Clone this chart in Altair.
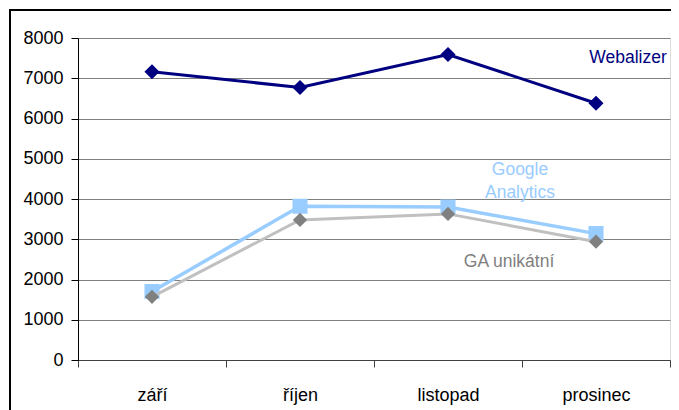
import altair as alt
import pandas as pd

months = ["září", "říjen", "listopad", "prosinec"]
webalizer = [7160, 6770, 7590, 6380]
google_analytics = [1700, 3820, 3800, 3140]
ga_unikatni = [1570, 3480, 3630, 2940]

series_names = ["Google Analytics", "GA unikátní", "Webalizer"]
series_values = [google_analytics, ga_unikatni, webalizer]
line_colors = ["#99CCFF", "#C0C0C0", "#000080"]
marker_colors = ["#99CCFF", "#808080", "#000080"]
marker_shapes = ["square", "diamond", "diamond"]
marker_sizes = [170, 130, 150]
line_widths = [3.5, 3, 3]

# annotation labels: text, anchor month, anchor value
label_texts = [["Google", "Analytics"], ["GA unikátní"], ["Webalizer"]]
label_months = ["listopad", "listopad", "prosinec"]
label_values = [4720, 2440, 7500]
label_dx = [72, 61, 32]
label_colors = ["#99CCFF", "#808080", "#000080"]

FONT = "Liberation Sans"

x_scale = alt.Scale(domain=months, paddingInner=0, paddingOuter=0)
y_scale = alt.Scale(domain=[0, 8000], nice=False)

x_enc = alt.X(
    "month:N",
    scale=x_scale,
    sort=months,
    axis=alt.Axis(
        title=None,
        labelAngle=0,
        labelFont=FONT,
        labelFontSize=18,
        labelColor="#000000",
        labelPadding=19,
        tickBand="extent",
        tickSize=7,
        tickColor="#404040",
        domainColor="#404040",
        grid=False,
    ),
)
y_enc = alt.Y(
    "value:Q",
    scale=y_scale,
    axis=alt.Axis(
        title=None,
        values=list(range(0, 8001, 1000)),
        format="d",
        labelFont=FONT,
        labelFontSize=18,
        labelColor="#000000",
        labelPadding=8,
        tickSize=7,
        tickColor="#000000",
        domainColor="#000000",
        grid=True,
        gridColor="#808080",
        gridOpacity=1,
    ),
)

layers = []

# outer frame
frame = alt.Chart(pd.DataFrame({"a": [0]})).mark_rect(
    fill=None, stroke="#000000", strokeWidth=2
).encode(
    x=alt.value(-68), x2=alt.value(800), y=alt.value(-28), y2=alt.value(600)
)
layers.append(frame)

for i, name in enumerate(series_names):
    df = pd.DataFrame({"month": months, "value": series_values[i], "series": name})
    base = alt.Chart(df)
    line = base.mark_line(color=line_colors[i], strokeWidth=line_widths[i]).encode(
        x=x_enc, y=y_enc
    )
    pts = base.mark_point(
        shape=marker_shapes[i],
        filled=True,
        fill=marker_colors[i],
        stroke=marker_colors[i],
        size=marker_sizes[i],
        opacity=1,
    ).encode(x=x_enc, y=y_enc)
    layers.append(line)
    layers.append(pts)

for i in range(len(label_texts)):
    ldf = pd.DataFrame(
        {"month": [label_months[i]], "value": [label_values[i]], "text": [label_texts[i]]}
    )
    t = alt.Chart(ldf).mark_text(
        font=FONT,
        fontSize=17.5,
        color=label_colors[i],
        dx=label_dx[i],
        align="center",
        baseline="middle",
        lineHeight=23,
    ).encode(x=alt.X("month:N", scale=x_scale, sort=months), y=alt.Y("value:Q", scale=y_scale), text="text")
    layers.append(t)

chart = (
    alt.layer(*layers)
    .properties(
        width=592,
        height=322,
        autosize=alt.AutoSizeParams(type="none"),
        padding={"left": 70, "top": 30, "right": 1, "bottom": 50},
    )
    .configure_view(stroke="#808080", strokeWidth=1)
    .configure(background="#ffffff")
)

chart.save("out.html", embed_options={"renderer": "svg", "actions": False})
